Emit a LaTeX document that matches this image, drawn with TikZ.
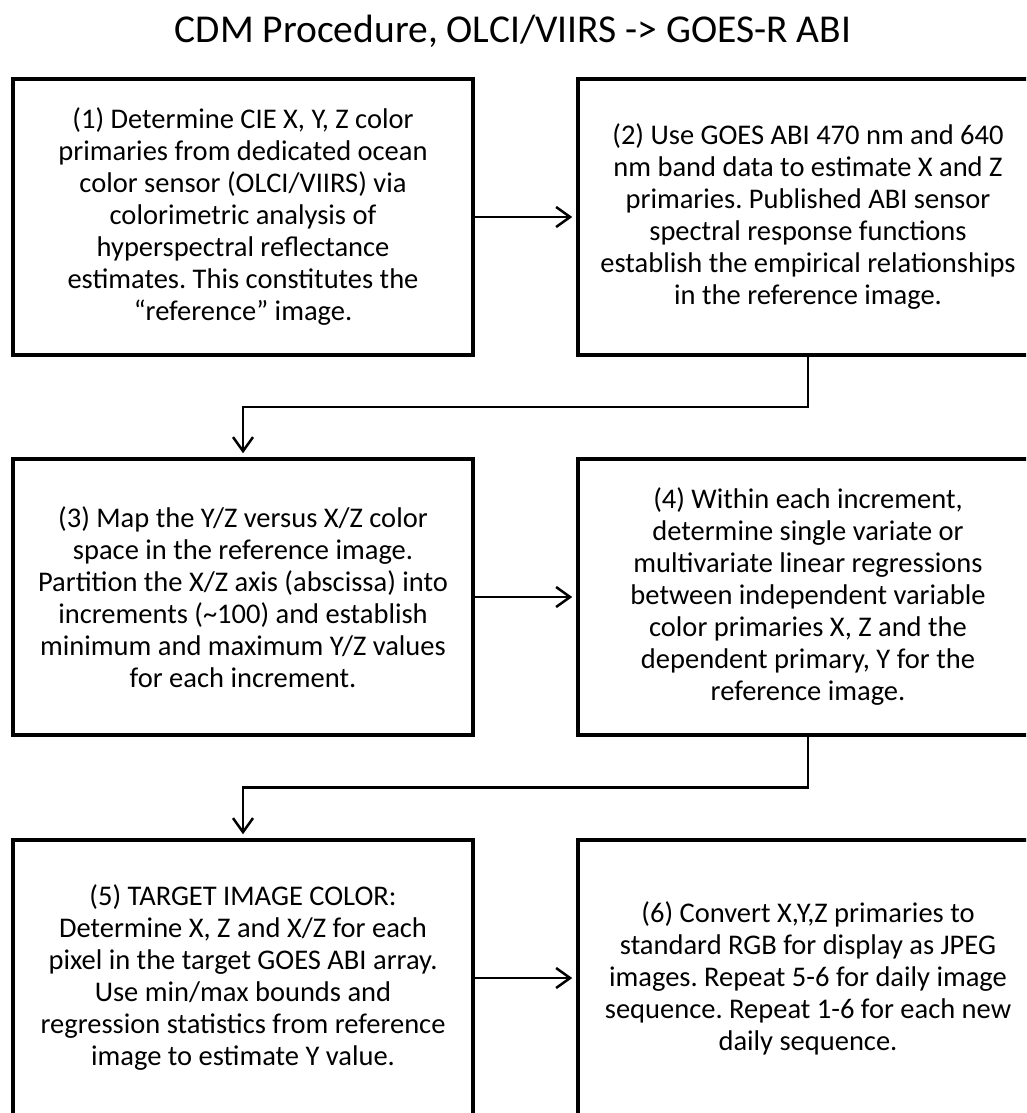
\documentclass[tikz,border=0pt]{standalone}
\usepackage{fontspec}
\setmainfont{Carlito}
\usetikzlibrary{arrows.meta,calc}
\frenchspacing

\begin{document}
\begin{tikzpicture}[x=1pt,y=1pt,
    stepbox/.style={draw,line width=4.5pt,minimum width=460pt,minimum height=276pt,
      align=center,inner sep=0pt,font=\fontsize{28.5}{32}\selectfont},
    link/.style={line width=2.5pt,-{Straight Barb[length=14pt,width=20pt]},shorten >=3.5pt}]
  \useasboundingbox (0,0) rectangle (1026,-1113);
  \clip (0,0) rectangle (1026,-1113);
  \node[font=\fontsize{39.5}{48}\selectfont,anchor=base] (title) at (513,-43)
    {CDM Procedure, OLCI/VIIRS -> GOES-R ABI};
  \node[stepbox] (s1) at (243,-217) {(1) Determine CIE X, Y, Z color\\
    primaries from dedicated ocean\\ color sensor (OLCI/VIIRS) via\\
    colorimetric analysis of\\ hyperspectral reflectance\\
    estimates. This constitutes the\\ “reference” image.};
  \node[stepbox] (s2) at (808,-217) {(2) Use GOES ABI 470 nm and 640\\
    nm band data to estimate X and Z\\ primaries. Published ABI sensor\\
    spectral response functions\\ establish the empirical relationships\\
    in the reference image.};
  \node[stepbox] (s3) at (243,-597) {(3) Map the Y/Z versus X/Z color\\
    space in the reference image.\\ Partition the X/Z axis (abscissa) into\\
    increments (\textasciitilde100) and establish\\
    minimum and maximum Y/Z values\\ for each increment.};
  \node[stepbox] (s4) at (808,-597) {(4) Within each increment,\\
    determine single variate or\\ multivariate linear regressions\\
    between independent variable\\ color primaries X, Z and the\\
    dependent primary, Y for the\\ reference image.};
  \node[stepbox] (s5) at (243,-978) {(5) TARGET IMAGE COLOR:\\
    Determine X, Z and X/Z for each\\ pixel in the target GOES ABI array.\\
    Use min/max bounds and\\ regression statistics from reference\\
    image to estimate Y value.};
  \node[stepbox] (s6) at (808,-978) {(6) Convert X,Y,Z primaries to\\
    standard RGB for display as JPEG\\ images. Repeat 5-6 for daily image\\
    sequence. Repeat 1-6 for each new\\ daily sequence.};
  \draw[link] (s1) -- (s2);
  \draw[link] (s2.south) |- ($(s2.south)!0.5!(s3.north)$) -| (s3.north);
  \draw[link] (s3) -- (s4);
  \draw[link] (s4.south) |- ($(s4.south)!0.5!(s5.north)$) -| (s5.north);
  \draw[link] (s5) -- (s6);
\end{tikzpicture}
\end{document}
